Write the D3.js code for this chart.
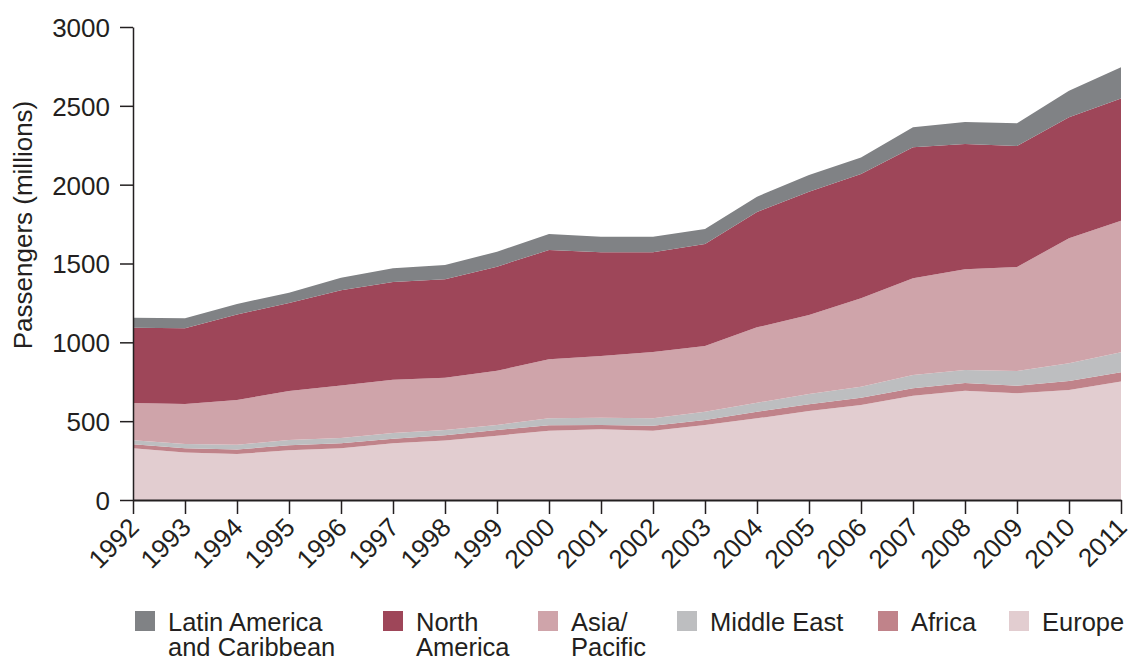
<!DOCTYPE html>
<html>
<head>
<meta charset="utf-8">
<script src="https://cdn.jsdelivr.net/npm/d3@7"></script>
<style>
  body { margin: 0; background: #fff; }
  text { font-family: "Liberation Sans", Arial, sans-serif; fill: #231f20; }
</style>
</head>
<body>
<svg id="chart" width="1131" height="657"></svg>
<script>
// data (millions of passengers)
var years = [1992, 1993, 1994, 1995, 1996, 1997, 1998, 1999, 2000, 2001,
             2002, 2003, 2004, 2005, 2006, 2007, 2008, 2009, 2010, 2011];

var europe       = [328, 302, 292, 315, 328, 360, 378, 408, 440, 448, 440, 476, 518, 564, 603, 662, 693, 677, 698, 751];
var africa       = [25, 26, 29, 32, 32, 29, 32, 36, 34, 28, 31, 31, 42, 43, 46, 46, 49, 48, 57, 59];
var middleEast   = [26, 27, 30, 33, 33, 36, 34, 32, 44, 46, 47, 53, 57, 65, 70, 85, 82, 93, 112, 127];
var asiaPacific  = [236, 254, 283, 311, 334, 338, 331, 344, 374, 391, 421, 417, 478, 501, 560, 613, 639, 660, 793, 834];
var northAmerica = [478, 480, 543, 559, 603, 620, 625, 660, 694, 658, 632, 647, 732, 782, 789, 831, 795, 767, 767, 776];
var latinAmerica = [63, 63, 66, 65, 80, 87, 90, 95, 101, 99, 99, 95, 97, 106, 105, 127, 139, 144, 169, 197];

var yTicks = [0, 500, 1000, 1500, 2000, 2500, 3000];

// series, bottom of stack first
var keys   = ["Europe", "Africa", "Middle East", "Asia/Pacific", "North America", "Latin America"];
var colors = ["#e2cdd0", "#c0838a", "#bdbec0", "#cfa4aa", "#9e4659", "#808285"];

// legend order, left to right, with line breaks
var legendKeys  = ["Latin America", "North America", "Asia/Pacific", "Middle East", "Africa", "Europe"];
var legendLines = [["Latin America", "and Caribbean"], ["North", "America"], ["Asia/", "Pacific"],
                   ["Middle East"], ["Africa"], ["Europe"]];
var legendX = [135, 383, 538, 677, 878, 1009];

//-----------------------------------------------------------------------

var svg = d3.select("#chart");
var plotLeft = 133, plotRight = 1121, plotTop = 27, plotBottom = 500;

var x = d3.scaleLinear().domain([1992, 2011]).range([plotLeft, plotRight]);
var y = d3.scaleLinear().domain([0, 3000]).range([plotBottom, plotTop]);

// build rows for d3.stack
var series = [europe, africa, middleEast, asiaPacific, northAmerica, latinAmerica];
var rows = years.map(function (yr, i) {
  var row = { year: yr };
  keys.forEach(function (k, j) { row[k] = series[j][i]; });
  return row;
});

var stacked = d3.stack().keys(keys)(rows);

var area = d3.area()
  .x(function (d) { return x(d.data.year); })
  .y0(function (d) { return y(d[0]); })
  .y1(function (d) { return y(d[1]); });

svg.append("g").selectAll("path")
  .data(stacked)
  .enter()
  .append("path")
  .attr("d", area)
  .attr("fill", function (d, i) { return colors[i]; });

// y axis
var yAxis = svg.append("g")
  .attr("transform", "translate(" + plotLeft + ",0)")
  .call(d3.axisLeft(y).tickValues(yTicks).tickFormat(d3.format("d"))
        .tickSize(13).tickPadding(10).tickSizeOuter(0));
yAxis.selectAll("text").style("font-size", "26px").attr("dy", "0.36em");

// x axis
var xAxis = svg.append("g")
  .attr("transform", "translate(0," + plotBottom + ")")
  .call(d3.axisBottom(x).tickValues(years).tickFormat(d3.format("d")).tickSize(14).tickSizeOuter(0));
xAxis.selectAll("text")
  .style("font-size", "26px")
  .attr("text-anchor", "end")
  .attr("dy", null)
  .attr("y", null)
  .attr("transform", "translate(7,29) rotate(-45)");

svg.selectAll(".domain, .tick line").attr("stroke", "#231f20").attr("stroke-width", 1.5);
xAxis.select(".domain").attr("stroke-width", 2);
svg.selectAll(".tick text").attr("fill", "#231f20");

// y axis title
svg.append("text")
  .attr("transform", "translate(32,225) rotate(-90)")
  .attr("text-anchor", "middle")
  .style("font-size", "26px")
  .text("Passengers (millions)");

// legend
var legend = svg.append("g").selectAll("g")
  .data(legendKeys)
  .enter()
  .append("g")
  .attr("transform", function (d, i) { return "translate(" + legendX[i] + ",611)"; });

legend.append("rect")
  .attr("width", 20)
  .attr("height", 20)
  .attr("fill", function (d) { return colors[keys.indexOf(d)]; });

legend.append("text")
  .style("font-size", "25.5px")
  .each(function (d, i) {
    var t = d3.select(this);
    legendLines[i].forEach(function (line, j) {
      t.append("tspan").attr("x", 33).attr("y", 20 + j * 25).text(line);
    });
  });
</script>
</body>
</html>
